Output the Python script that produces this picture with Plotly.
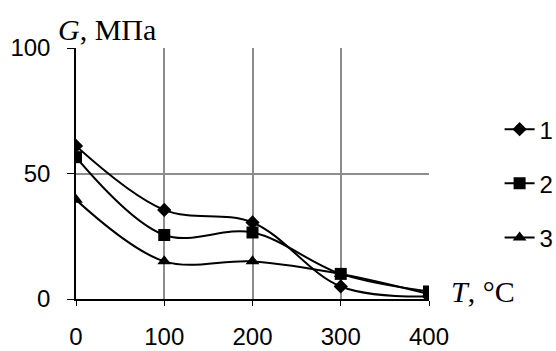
import plotly.graph_objects as go

temps = [0, 100, 200, 300, 400]
series_names = ["1", "2", "3"]
g1 = [61, 35.5, 30.5, 5, 1]
g2 = [56.5, 25.5, 26.5, 10, 3]
g3 = [39.5, 15, 15, 10, 2]
symbols = ["diamond", "square", "triangle-up"]
sizes = [11, 12, 12]

fig = go.Figure()
for name, vals, sym, sz in zip(series_names, [g1, g2, g3], symbols, sizes):
    fig.add_trace(go.Scatter(
        x=temps, y=vals, name=name, legendgroup=name,
        mode="lines+markers",
        line=dict(color="black", width=2, shape="spline", smoothing=1),
        marker=dict(symbol=sym, size=sz, color="black"),
    ))

axis_font = dict(family="Liberation Sans, Arial", size=24, color="black")
fig.update_layout(
    width=556, height=351,
    margin=dict(l=76, r=127, t=48, b=52, autoexpand=False),
    plot_bgcolor="white", paper_bgcolor="white",
    showlegend=True,
    legend=dict(x=1.2, y=0.46, xanchor="left", yanchor="middle",
                font=axis_font, tracegroupgap=20, bgcolor="rgba(0,0,0,0)"),
    xaxis=dict(range=[0, 400], tickvals=temps, showgrid=True, gridcolor="#8c8c8c",
               gridwidth=1.5, showline=True, linecolor="black", linewidth=1.5,
               ticks="outside", ticklen=5, tickcolor="black", tickfont=axis_font,
               ticklabelstandoff=10, zeroline=False, mirror=False, automargin=False),
    yaxis=dict(range=[0, 100], tickvals=[0, 50, 100], showgrid=True, gridcolor="#8c8c8c",
               gridwidth=1.5, showline=True, linecolor="black", linewidth=1.5,
               ticks="outside", ticklen=7, tickcolor="black", tickfont=axis_font,
               ticklabelstandoff=12, zeroline=False, automargin=False),
    annotations=[
        dict(text="<i>G</i>, МПа", x=0, y=1.0, xref="paper", yref="paper",
             xanchor="left", yanchor="bottom", xshift=-20, yshift=0, showarrow=False,
             font=dict(family="Liberation Serif, Times New Roman", size=30, color="black")),
        dict(text="<i>T</i>, °C", x=1.0, y=0.0, xref="paper", yref="paper",
             xanchor="left", yanchor="middle", xshift=20, yshift=8, showarrow=False,
             font=dict(family="Liberation Serif, Times New Roman", size=30, color="black")),
    ],
)
fig.write_html("out.html", config={"displayModeBar": False},
               post_script="document.body.style.margin='0px';document.body.style.overflow='hidden';")
